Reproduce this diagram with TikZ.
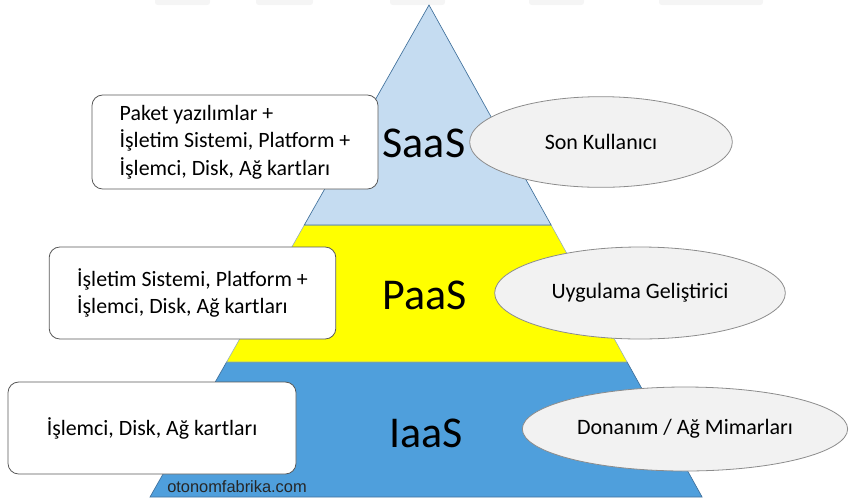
\documentclass[tikz,border=0pt]{standalone}
\usepackage{fontspec}
\setmainfont{Carlito}
\newfontfamily\sitefont{Liberation Sans}
\usetikzlibrary{shapes.geometric}
\usetikzlibrary{positioning}
\definecolor{saascol}{HTML}{C5DCF1}
\definecolor{paascol}{HTML}{FFFF00}
\definecolor{iaascol}{HTML}{4F9FDC}
\definecolor{edgecol}{HTML}{41719C}
\definecolor{ovalcol}{HTML}{F2F2F2}

\begin{document}
\begin{tikzpicture}[x=0.75pt, y=-0.75pt,
    infobox/.style={draw=black!65, rounded corners=8pt, fill=white, line width=0.6pt, align=left, font=\fontsize{16.4}{20.6}\selectfont},
    role/.style={draw=black!45, ellipse, fill=ovalcol, line width=0.6pt, inner sep=0pt, font=\fontsize{16.5}{19}\selectfont},
    tier/.style={font=\fontsize{33}{38}\selectfont}]
    \useasboundingbox (0,0) rectangle (850,501);
    % faint strips at the top edge
    \foreach \a/\b in {155/210, 256/313, 390/445, 529/584, 659/763}
        \fill[black!4, rounded corners=2pt] (\a,-3) rectangle (\b,5);
    % pyramid layers
    \coordinate (apex) at (429,5);
    \coordinate (sl) at (304.3,225);  \coordinate (sr) at (551.1,225);
    \coordinate (pl) at (226.6,362);  \coordinate (pr) at (627.1,362);
    \coordinate (il) at (150,497);    \coordinate (ir) at (702.1,497);
    \draw[fill=iaascol, draw=edgecol, line width=0.5pt] (pl) -- (pr) -- (ir) -- (il) -- cycle;
    \draw[fill=paascol, draw=edgecol!60, line width=0.4pt] (sl) -- (sr) -- (pr) -- (pl) -- cycle;
    \draw[fill=saascol, draw=edgecol, line width=0.5pt] (apex) -- (sr) -- (sl) -- cycle;

    % tier names
    \node[tier] (saas) at (424,143) {SaaS};
    \node[tier] (paas) at (425,295) {PaaS};
    \node[tier] (iaas) at (426,433) {IaaS};

    % what each tier gives
    \node[infobox, minimum width=214.5pt, minimum height=70.5pt] (saasbox) at (235,142)
        {Paket yazılımlar +\\İşletim Sistemi, Platform +\\İşlemci, Disk, Ağ kartları};
    \node[infobox, minimum width=215pt, minimum height=69pt] (paasbox) at (192.5,293)
        {İşletim Sistemi, Platform +\\İşlemci, Disk, Ağ kartları};
    \node[infobox, minimum width=216pt, minimum height=69pt] (iaasbox) at (152,428)
        {İşlemci, Disk, Ağ kartları};

    % who uses each tier
    \node[role, minimum width=197pt, minimum height=68pt] (sonrole) at (601,142) {Son Kullanıcı};
    \node[role, minimum width=218pt, minimum height=69pt] (devrole) at (640,293) {Uygulama Geliştirici};
    \node[role, minimum width=244pt, minimum height=63pt] (hwrole) at (685,429) {Donanım / Ağ Mimarları};

    \node[font=\sitefont\fontsize{12.3}{14}\selectfont, text=black!85] (site) at (237,487) {otonomfabrika.com};
\end{tikzpicture}
\end{document}
